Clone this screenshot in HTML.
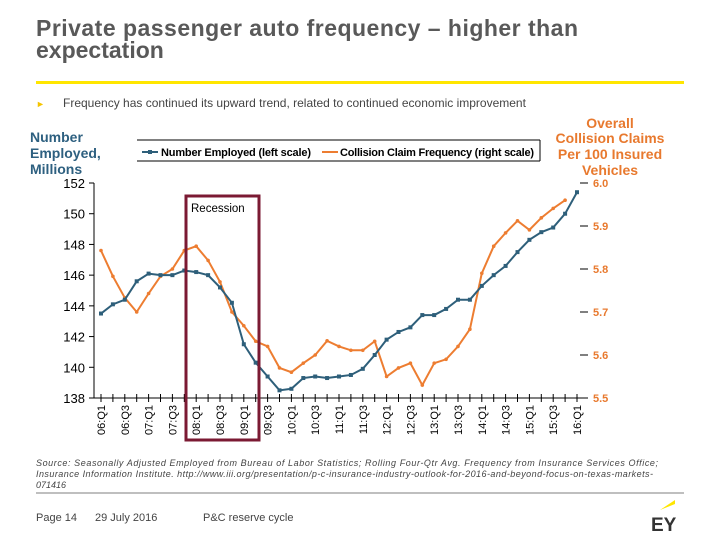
<!DOCTYPE html>
<html><head><meta charset="utf-8"><style>
body{margin:0;width:720px;height:540px;background:#fff;overflow:hidden;font-family:"Liberation Sans",sans-serif}
</style></head><body>
<svg id="s" width="720" height="540" xmlns="http://www.w3.org/2000/svg" font-family="Liberation Sans, sans-serif">
<text x="36" y="36" font-size="23" font-weight="bold" fill="#595959" textLength="542">Private passenger auto frequency – higher than</text>
<text x="36" y="58" font-size="23" font-weight="bold" fill="#595959">expectation</text>
<rect x="36" y="81" width="648" height="3" fill="#ffe600"/>
<text x="36" y="107" font-size="9" fill="#f5c400">►</text>
<text x="63" y="107" font-size="12" fill="#444">Frequency has continued its upward trend, related to continued economic improvement</text>
<g font-weight="bold" font-size="14" fill="#2e6080">
<text x="30" y="142">Number</text><text x="30" y="158">Employed,</text><text x="30" y="174">Millions</text></g>
<g font-weight="bold" font-size="14" fill="#e8792e" text-anchor="middle">
<text x="610" y="128">Overall</text><text x="610" y="143">Collision Claims</text><text x="610" y="159">Per 100 Insured</text><text x="610" y="175">Vehicles</text></g>
<g>
<line x1="137" y1="140" x2="540" y2="140" stroke="#000"/><line x1="137" y1="161" x2="540" y2="161" stroke="#000"/><line x1="540" y1="140" x2="540" y2="161" stroke="#000"/>
<line x1="142" y1="152" x2="158" y2="152" stroke="#2e5f7a" stroke-width="2"/><rect x="148" y="150" width="4" height="4" fill="#2e5f7a"/>
<text x="161" y="156" font-size="11" font-weight="bold" fill="#000" textLength="150">Number Employed (left scale)</text>
<line x1="322" y1="152" x2="338" y2="152" stroke="#ed7d31" stroke-width="2"/>
<text x="340" y="156" font-size="11" font-weight="bold" fill="#000" textLength="194">Collision Claim Frequency (right scale)</text>
</g>
<g id="chart"></g>
<rect x="186" y="196" width="73" height="244" fill="none" stroke="#7b1a33" stroke-width="3"/>
<text x="191" y="212" font-size="11.5" fill="#000">Recession</text>
<g font-size="9" font-style="italic" fill="#444">
<text x="36" y="466" textLength="622">Source: Seasonally Adjusted Employed from Bureau of Labor Statistics; Rolling Four-Qtr Avg. Frequency from Insurance Services Office;</text>
<text x="36" y="477" textLength="617">Insurance Information Institute. http://www.iii.org/presentation/p-c-insurance-industry-outlook-for-2016-and-beyond-focus-on-texas-markets-</text>
<text x="36" y="488">071416</text></g>
<line x1="36" y1="493" x2="684" y2="493" stroke="#555" stroke-width="0.8"/>
<text x="36" y="521" font-size="11" fill="#444">Page 14</text>
<text x="95" y="521" font-size="11" fill="#444">29 July 2016</text>
<text x="203" y="521" font-size="11" fill="#444">P&amp;C reserve cycle</text>
<polygon points="660,510 675,500 675,504" fill="#ffe600"/>
<text x="651" y="531" font-size="19" font-weight="bold" fill="#333">EY</text>
</svg>
<script>
const quarters=[];for(let y=6;y<=16;y++)for(let q=1;q<=4;q++){if(y===16&&q>1)break;quarters.push(String(y).padStart(2,'0')+':Q'+q);}
const employed=[143.5,144.1,144.4,145.6,146.1,146.0,146.0,146.3,146.2,146.0,145.2,144.2,141.5,140.3,139.4,138.5,138.6,139.3,139.4,139.3,139.4,139.5,139.9,140.8,141.8,142.3,142.6,143.4,143.4,143.8,144.4,144.4,145.3,146.0,146.6,147.5,148.3,148.8,149.1,150.0,151.4];
const claims=[5.843,5.783,5.733,5.70,5.743,5.783,5.80,5.843,5.853,5.82,5.77,5.70,5.668,5.632,5.62,5.57,5.56,5.581,5.60,5.633,5.62,5.611,5.611,5.632,5.55,5.57,5.581,5.53,5.581,5.59,5.62,5.66,5.79,5.853,5.884,5.912,5.891,5.919,5.941,5.96];
const leftTicks=[138,140,142,144,146,148,150,152];
const rightTicks=[5.5,5.6,5.7,5.8,5.9,6.0];
const NS='http://www.w3.org/2000/svg',g=document.getElementById('chart');
const X0=101,X1=577,Y0=398,Y1=183;
const xs=i=>X0+(X1-X0)*i/(quarters.length-1);
const yl=v=>Y0-(v-138)/(152-138)*(Y0-Y1);
const yr=v=>Y0-(v-5.5)/(6.0-5.5)*(Y0-Y1);
function el(t,a){const e=document.createElementNS(NS,t);for(const k in a)e.setAttribute(k,a[k]);g.appendChild(e);return e;}
let e=el('line',{x1:94,y1:Y1,x2:94,y2:Y0,stroke:'#000'});


e=el('line',{x1:94,y1:Y0,x2:585,y2:Y0,stroke:'#000'});


leftTicks.forEach(v=>{el('line',{x1:89,y1:yl(v),x2:94,y2:yl(v),stroke:'#000'});
 const t=el('text',{x:85,y:yl(v)+5,'font-size':13,'text-anchor':'end',fill:'#000'});t.textContent=v;
 
 });
rightTicks.forEach(v=>{el('line',{x1:580,y1:yr(v),x2:588,y2:yr(v),stroke:'#000'});
 const t=el('text',{x:593,y:yr(v)+4,'font-size':11,'font-weight':'bold',fill:'#e8792e'});t.textContent=v.toFixed(1);
 
 });
quarters.forEach((q,i)=>{el('line',{x1:xs(i),y1:Y0-4,x2:xs(i),y2:Y0+4,stroke:'#000'});
 if(i%2===0){const t=el('text',{x:0,y:0,'font-size':11,fill:'#000','text-anchor':'end',transform:`translate(${xs(i)+4},${Y0+7}) rotate(-90)`});t.textContent=q;
 
 }});
e=el('polyline',{points:claims.map((v,i)=>xs(i)+','+yr(v)).join(' '),fill:'none',stroke:'#ed7d31','stroke-width':2});


claims.forEach((v,i)=>{const m=el('circle',{cx:xs(i),cy:yr(v),r:1.8,fill:'#ed7d31'});
 
 });
e=el('polyline',{points:employed.map((v,i)=>xs(i)+','+yl(v)).join(' '),fill:'none',stroke:'#2e5f7a','stroke-width':2});


employed.forEach((v,i)=>{const m=el('rect',{x:xs(i)-2,y:yl(v)-2,width:4,height:4,fill:'#2e5f7a'});
 
 });
</script>
</body></html>
